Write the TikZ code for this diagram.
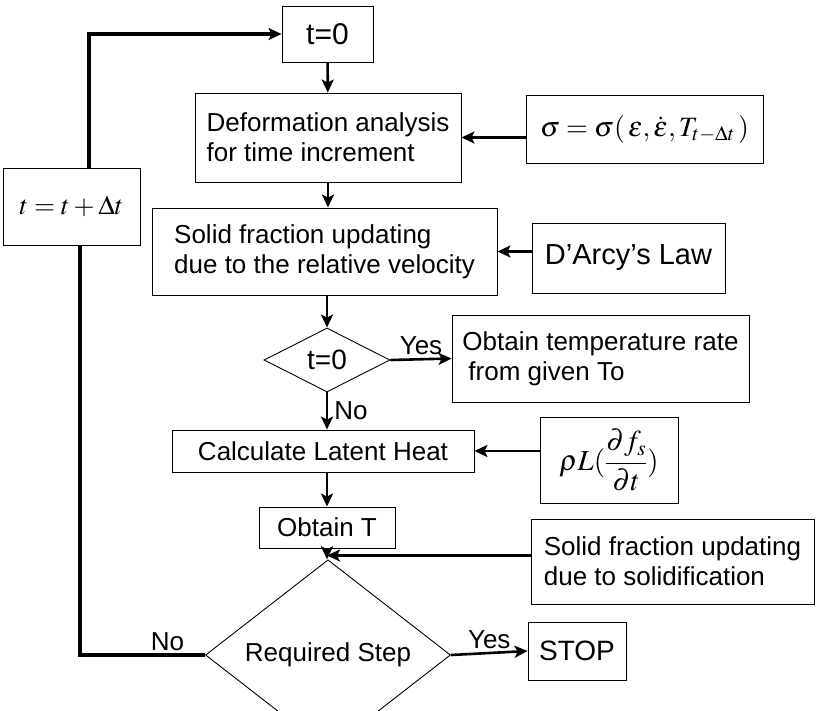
\documentclass[tikz,border=0pt]{standalone}
\usepackage{mathptmx}
\usepackage{fontspec}
\setmainfont{Liberation Sans}
\usetikzlibrary{arrows.meta,shapes.geometric}
\begin{document}
\begin{tikzpicture}[x=1pt,y=-1pt,
box/.style  = {draw, line width=0.9pt, inner sep=2pt, align=left,
               font=\fontsize{26}{30}\selectfont},
dec/.style  = {draw, diamond, line width=0.9pt, inner sep=0pt,
               font=\fontsize{26}{30}\selectfont},
flow/.style = {line width=2.6pt, -{Stealth[length=13pt,width=12pt,inset=3pt]}},
back/.style = {line width=3.2pt},
lbl/.style  = {font=\fontsize{26}{30}\selectfont, inner sep=1pt}
                    ]
\useasboundingbox (0,0) rectangle (816,710);
%
\node[box, minimum width=91pt, minimum height=56pt, font=\fontsize{30}{34}\selectfont] (t0) at (327.5,34) {t=0};
\node[box, minimum width=266pt, minimum height=89pt] (deform) at (328,137.5) {Deformation analysis\\for time increment};
\node[box, minimum width=237pt, minimum height=68pt, font=\fontsize{28}{32}\selectfont] (sigma) at (644.5,129) {$\sigma = \sigma(\,\varepsilon,\dot{\varepsilon},T_{t-\Delta t}\,)$};
\node[box, minimum width=345pt, minimum height=87pt] (solid) at (324.5,251.5) {Solid fraction updating\\due to the relative velocity};
\node[box, minimum width=193pt, minimum height=70pt, font=\fontsize{29}{33}\selectfont] (darcy) at (628.5,258) {D'Arcy's Law};
\node[box, minimum width=137pt, minimum height=77pt, font=\fontsize{27}{31}\selectfont] (incr) at (71.5,206.5) {$t = t + \Delta t$};
%
\node[dec, minimum width=126pt, minimum height=64pt, font=\fontsize{28}{32}\selectfont] (check) at (327,360) {t=0};
\node[box, minimum width=297pt, minimum height=87pt] (rate) at (600.5,358.5) {Obtain temperature rate\\\hspace*{6pt}from given To};
\node[box, minimum width=302pt, minimum height=42pt] (latent) at (323,451) {Calculate Latent Heat};
\node[box, minimum width=138pt, minimum height=86pt, font=\fontsize{29}{33}\selectfont] (rhol) at (609,460) {$\rho L(\displaystyle\frac{\partial f_s}{\partial t})$};
\node[box, minimum width=136pt, minimum height=41pt] (obtainT) at (327,527.5) {Obtain T};
\node[box, minimum width=283pt, minimum height=85pt] (solidify) at (672.5,561.5) {Solid fraction updating\\due to solidification};
%
\node[dec, minimum width=245pt, minimum height=106pt] (required) at (328,655) {Required Step};
\node[box, minimum width=98pt, minimum height=58pt, font=\fontsize{28}{32}\selectfont] (stop) at (577,651) {STOP};
%
\coordinate (join) at ([yshift=6pt]obtainT.south |- solidify.west);
\coordinate (up) at ([xshift=17.5pt]incr.north);
\coordinate (down) at ([xshift=8.5pt]incr.south);
%
\draw[flow] (t0) -- (deform);
\draw[flow] (deform.south) -- (deform.south |- solid.north);
\draw[flow] (sigma.west |- deform.east) -- (deform.east);
\draw[flow] (darcy.west |- solid.east) -- (solid.east);
\draw[flow] (solid.south -| check.north) -- (check.north);
\draw[flow] (check.east) -- node[lbl, above=2pt] {Yes} (rate.west);
\draw[flow] (check.south) -- node[lbl, right=5pt] {No} (check.south |- latent.north);
\draw[flow] (rhol.west |- latent.east) -- (latent.east);
\draw[flow] (latent.south -| obtainT.north) -- (obtainT.north);
\draw[flow] (obtainT.south) -- (obtainT.south |- required.north);
\draw[flow] (solidify.west |- join) -- (join);
\draw[flow] (required.east) -- node[lbl, above=2pt] {Yes} (stop.west);
%
\draw[back] (required.west) -- node[lbl, above=2pt, pos=0.3] {No} (required.west -| down) -- (down);
\draw[back, flow, line width=3.2pt] (up) |- (t0.west);

\end{tikzpicture}
\end{document}
